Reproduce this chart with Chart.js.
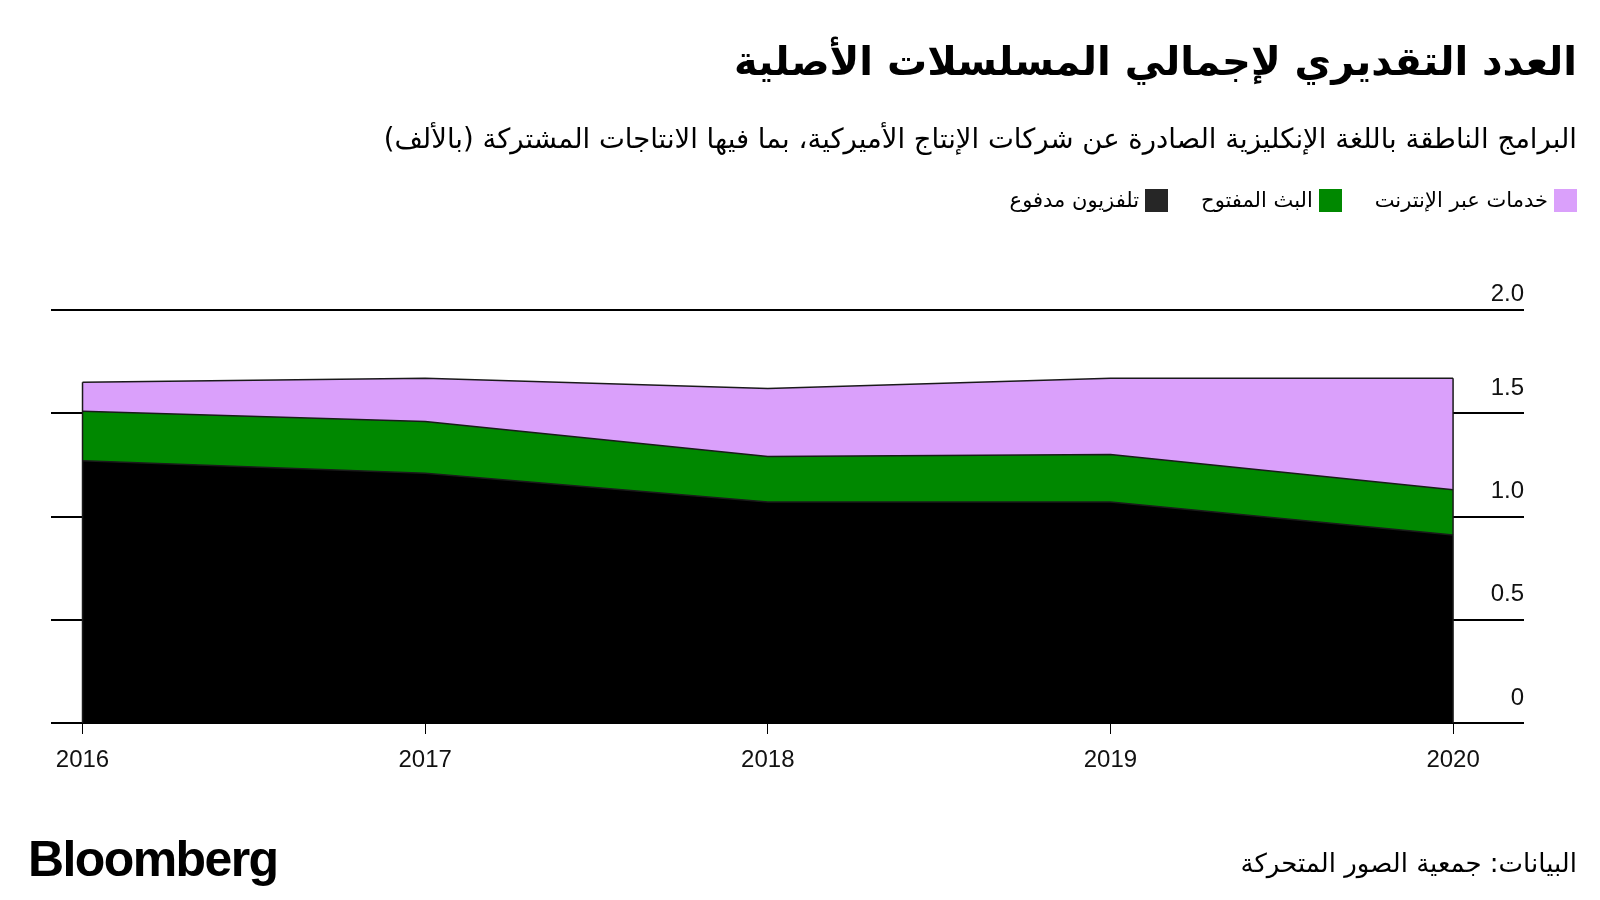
<!DOCTYPE html>
<html lang="ar">
<head>
<meta charset="utf-8">
<title>العدد التقديري لإجمالي المسلسلات الأصلية</title>
<script src="https://cdn.jsdelivr.net/npm/chart.js@4/dist/chart.umd.min.js"></script>
<style>
  html, body { margin: 0; padding: 0; background: #fff; }
  #wrap { position: relative; width: 1600px; height: 900px; overflow: hidden; }
  #chart { position: absolute; left: 0; top: 0; }
  .rtl { position: absolute; right: 23px; direction: rtl; text-align: right; color: #000;
         font-family: "DejaVu Sans", sans-serif; white-space: nowrap; }
  #title { top: 38px; font-size: 40px; font-weight: bold; }
  #subtitle { top: 122px; font-size: 27.5px; }
  #legend { top: 188px; font-size: 21px; display: flex; }
  #legend .item { display: flex; align-items: center; margin-left: 33px; }
  #legend .box { width: 23px; height: 23px; margin-left: 6px; }
  #source { top: 848px; font-size: 26px; }
  #logo { position: absolute; left: 28px; top: 830px; font-family: "Liberation Sans", Arial, sans-serif;
          font-weight: bold; font-size: 50px; letter-spacing: -1.6px; color: #000; }
</style>
</head>
<body>
<div id="wrap">
  <canvas id="chart" width="1600" height="900"></canvas>
  <div id="title" class="rtl">العدد التقديري لإجمالي المسلسلات الأصلية</div>
  <div id="subtitle" class="rtl">البرامج الناطقة باللغة الإنكليزية الصادرة عن شركات الإنتاج الأميركية، بما فيها الانتاجات المشتركة (بالألف)</div>
  <div id="legend" class="rtl"></div>
  <div id="source" class="rtl">البيانات: جمعية الصور المتحركة</div>
  <div id="logo">Bloomberg</div>
</div>
<script>
/* data (thousands of original scripted series) */
const years = [2016, 2017, 2018, 2019, 2020];
const paidTv = [1.27, 1.21, 1.07, 1.07, 0.91];
const broadcast = [0.24, 0.25, 0.22, 0.23, 0.22];
const online = [0.14, 0.21, 0.33, 0.37, 0.54];
const yTicks = [0, 0.5, 1.0, 1.5, 2.0];

const seriesNames = ["تلفزيون مدفوع", "البث المفتوح", "خدمات عبر الإنترنت"];
const seriesColors = ["#000000", "#008800", "#daa0fb"];
const legendColors = ["#262626", "#008800", "#daa0fb"];

const toPoints = arr => arr.map((v, i) => ({ x: years[i], y: v }));

/* legend (right to left: online, broadcast, paid tv) */
const legend = document.getElementById("legend");
[2, 1, 0].forEach(i => {
  const item = document.createElement("div");
  item.className = "item";
  const box = document.createElement("span");
  box.className = "box";
  box.style.background = legendColors[i];
  const txt = document.createElement("span");
  txt.textContent = seriesNames[i];
  item.appendChild(box);
  item.appendChild(txt);
  legend.appendChild(item);
});

/* y tick labels sit above the grid line, right aligned */
const rightLabels = {
  id: "rightLabels",
  afterDraw(chart) {
    const { ctx, chartArea, scales: { y } } = chart;
    ctx.save();
    ctx.font = "24px 'Liberation Sans', Arial, sans-serif";
    ctx.fillStyle = "#111";
    ctx.textAlign = "right";
    ctx.textBaseline = "middle";
    yTicks.forEach(v => {
      const py = y.getPixelForValue(v);
      const off = v === y.max ? 16 : 25;
      ctx.fillText(v === 0 ? "0" : v.toFixed(1), chartArea.right, py - off);
    });
    ctx.restore();
  }
};

/* thin outline on the left and right edges of the stacked areas */
const edgeLines = {
  id: "edgeLines",
  afterDatasetsDraw(chart) {
    const { ctx, scales: { y } } = chart;
    const top = chart.getDatasetMeta(chart.data.datasets.length - 1).data;
    ctx.save();
    ctx.strokeStyle = "#1a1a1a";
    ctx.lineWidth = 1.5;
    [top[0], top[top.length - 1]].forEach(p => {
      ctx.beginPath();
      ctx.moveTo(p.x, p.y);
      ctx.lineTo(p.x, y.getPixelForValue(0));
      ctx.stroke();
    });
    ctx.restore();
  }
};

const ds = (label, data, color) => ({
  label,
  data: toPoints(data),
  backgroundColor: color,
  borderColor: "#1a1a1a",
  borderWidth: 1.5,
  fill: true,
  pointRadius: 0,
  tension: 0
});

new Chart(document.getElementById("chart"), {
  type: "line",
  data: {
    datasets: [
      ds(seriesNames[0], paidTv, seriesColors[0]),
      ds(seriesNames[1], broadcast, seriesColors[1]),
      ds(seriesNames[2], online, seriesColors[2])
    ]
  },
  options: {
    responsive: false,
    animation: false,
    layout: { padding: { left: 51, right: 76, top: 310, bottom: 117 } },
    plugins: { legend: { display: false }, tooltip: { enabled: false } },
    scales: {
      x: {
        type: "linear",
        min: 2015.908,
        max: 2020.207,
        afterBuildTicks: s => { s.ticks = years.map(v => ({ value: v })); },
        afterFit: s => { s.height = 60; },
        grid: { drawOnChartArea: false, drawTicks: true, tickLength: 11, color: "#000", lineWidth: 1 },
        border: { display: false },
        ticks: {
          padding: 12,
          color: "#111",
          font: { family: "'Liberation Sans', Arial, sans-serif", size: 24 },
          callback: v => String(v),
          maxRotation: 0
        }
      },
      y: {
        position: "right",
        stacked: true,
        min: 0,
        max: 2.0,
        afterBuildTicks: s => { s.ticks = yTicks.map(v => ({ value: v })); },
        afterFit: s => { s.width = 0; },
        grid: { color: "#000", lineWidth: 2, drawTicks: false },
        border: { display: false },
        ticks: { display: false }
      }
    }
  },
  plugins: [rightLabels, edgeLines]
});
</script>
</body>
</html>
